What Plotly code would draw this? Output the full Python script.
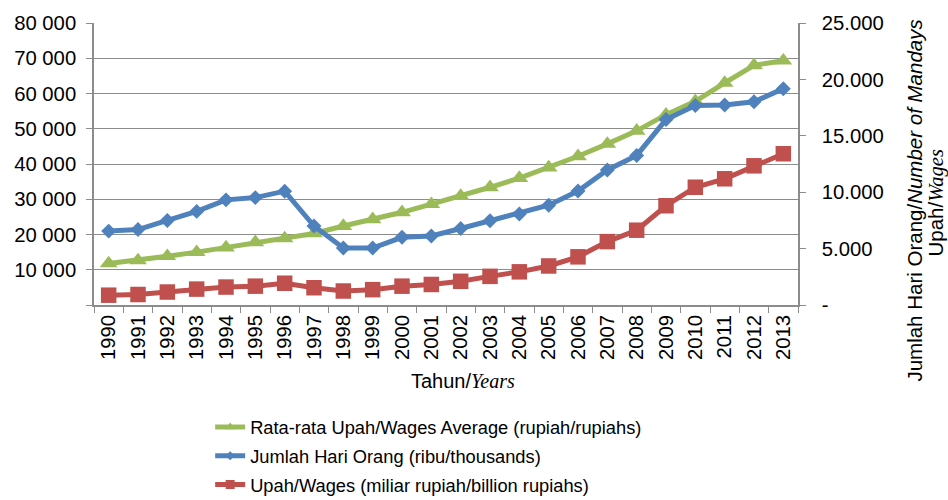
import plotly.graph_objects as go

years = [str(y) for y in range(1990, 2014)]

# Rata-rata Upah / Wages Average (rupiah) - left axis
wages_avg = [11800, 12650, 13850, 15000, 16300, 17800, 18900, 20300, 22400, 24300,
             26300, 28600, 30900, 33400, 36000, 39000, 42200, 45700, 49400, 54000,
             57800, 63000, 68000, 69300]

# Jumlah Hari Orang / Number of Mandays (thousands) - right axis
mandays = [6550, 6690, 7500, 8300, 9320, 9520, 10090, 7000, 5050, 5050,
           6000, 6120, 6780, 7470, 8070, 8850, 10100, 11970, 13260, 16440,
           17680, 17730, 18020, 19180]

# Upah / Wages (billion rupiah) - right axis
wages_total = [870, 930, 1150, 1410, 1590, 1670, 1930, 1530, 1240, 1360,
               1670, 1820, 2100, 2540, 2940, 3460, 4270, 5620, 6630, 8800,
               10440, 11190, 12340, 13410]

left_ticks = [0, 10000, 20000, 30000, 40000, 50000, 60000, 70000, 80000]
left_labels = ["", "10 000", "20 000", "30 000", "40 000", "50 000", "60 000", "70 000", "80 000"]
right_ticks = [0, 5000, 10000, 15000, 20000, 25000]
right_labels = ["-", "5.000", "10.000", "15.000", "20.000", "25.000"]

GREEN = "#9BBB59"
BLUE = "#4F81BD"
RED = "#C0504D"
GRID = "#8C8C8C"
FONT = "Liberation Sans, Arial, sans-serif"
SERIF = "Liberation Serif, Times New Roman, serif"
TICK_SIZE = 20.3

series = [
    ("Rata-rata Upah/Wages Average (rupiah/rupiahs)", wages_avg, GREEN, "triangle-up", 15.5, 9, "y"),
    ("Jumlah Hari Orang (ribu/thousands)", mandays, BLUE, "diamond", 11.5, 7, "y2"),
    ("Upah/Wages (miliar rupiah/billion rupiahs)", wages_total, RED, "square", 15.5, 9, "y2"),
]

fig = go.Figure()
for i, (name, values, color, symbol, size, legend_size, axis) in enumerate(series):
    # the plotted series
    fig.add_trace(go.Scatter(
        x=years, y=values, name=name, showlegend=False, legendgroup=str(i),
        mode="lines+markers", line=dict(color=color, width=5),
        marker=dict(symbol=symbol, size=size, color=color), yaxis=axis))
    # legend entry with a smaller marker
    fig.add_trace(go.Scatter(
        x=[None], y=[None], name=name, showlegend=True, legendgroup=str(i),
        mode="lines+markers", line=dict(color=color, width=5),
        marker=dict(symbol=symbol, size=legend_size, color=color), yaxis=axis))

fig.update_layout(
    width=948, height=500,
    margin=dict(l=94, r=150, t=16, b=195),
    paper_bgcolor="white", plot_bgcolor="white",
    font=dict(family=FONT, color="#000000", size=20),
    showlegend=True,
    legend=dict(x=0.165, y=0.183, xanchor="left", yanchor="top", yref="container",
                font=dict(size=18.3, family=FONT), tracegroupgap=2,
                itemsizing="trace", bgcolor="rgba(0,0,0,0)"),
    xaxis=dict(type="category", range=[-0.5, 23.5], autorange=False,
               tickangle=-90, tickson="boundaries",
               ticks="outside", ticklen=6, tickcolor=GRID,
               showline=True, linecolor=GRID, linewidth=1.5,
               showgrid=False, tickfont=dict(size=TICK_SIZE)),
    yaxis=dict(range=[0, 80000], tickvals=left_ticks, ticktext=left_labels,
               ticks="outside", ticklen=6, tickcolor=GRID,
               showline=True, linecolor=GRID, linewidth=1.5,
               showgrid=True, gridcolor=GRID, gridwidth=1.2,
               zeroline=False, tickfont=dict(size=TICK_SIZE), ticklabelstandoff=6),
    yaxis2=dict(range=[0, 25000], tickvals=right_ticks, ticktext=right_labels,
                overlaying="y", side="right",
                ticks="outside", ticklen=6, tickcolor=GRID,
                showline=True, linecolor=GRID, linewidth=1.5,
                showgrid=False, zeroline=False,
                tickfont=dict(size=TICK_SIZE), ticklabelstandoff=12),
)

fig.add_annotation(
    x=0.524, y=-0.27, xref="paper", yref="paper",
    xanchor="center", yanchor="middle",
    text=f"Tahun/<i><span style='font-family:{SERIF}'>Years</span></i>",
    showarrow=False, font=dict(size=20, family=FONT))

# Right axis title, drawn as two rotated lines
fig.add_annotation(
    x=915, y=198, xref="paper", yref="paper", textangle=-90,
    xanchor="center", yanchor="middle",
    text="Jumlah Hari Orang/<i>Number of Mandays</i>",
    showarrow=False, font=dict(size=20.5, family=FONT))
fig.add_annotation(
    x=936, y=200, xref="paper", yref="paper", textangle=-90,
    xanchor="center", yanchor="middle",
    text=f"Upah/<i><span style='font-family:{SERIF}'>Wages</span></i>",
    showarrow=False, font=dict(size=20.5, family=FONT))

# convert the two pixel-placed annotations to paper coordinates
for ann in fig.layout.annotations[1:]:
    ann.x = (ann.x - 94) / (948 - 94 - 150)
    ann.y = (500 - 195 - ann.y) / (500 - 16 - 195)

fig.write_html("out.html")
